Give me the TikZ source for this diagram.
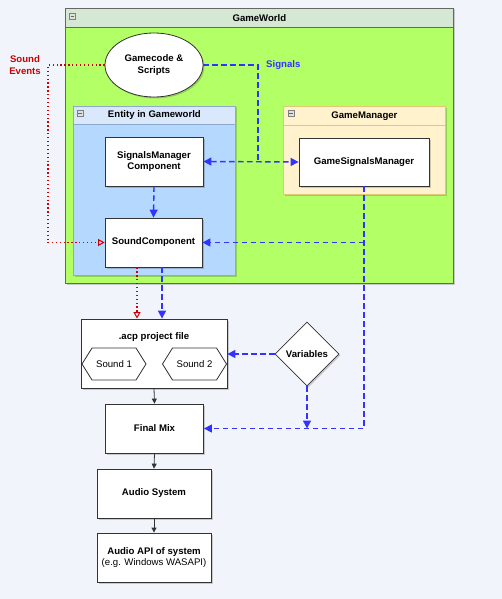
\documentclass[tikz,border=0pt]{standalone}
\usepackage{fontspec}
\setmainfont{Liberation Sans}
\usetikzlibrary{arrows.meta,shapes.geometric,shapes.symbols,shadows}

\definecolor{bgcol}{HTML}{F1F5FB}
\definecolor{worldhead}{HTML}{D5E8D4}
\definecolor{worldbody}{HTML}{B3FF66}
\definecolor{entityhead}{HTML}{DAE8FC}
\definecolor{entitybody}{HTML}{B5D8FF}
\definecolor{entityline}{HTML}{8EA9CF}
\definecolor{mgrhead}{HTML}{FFF2CC}
\definecolor{mgrline}{HTML}{E0C878}
\definecolor{boxline}{HTML}{333333}
\definecolor{sigblue}{HTML}{3333FF}
\definecolor{evred}{HTML}{CC0000}

\begin{document}
\begin{tikzpicture}[x=1pt,y=1pt,yscale=-1,
  font=\fontsize{9.6}{11.5}\selectfont,
  softshadow/.style={drop shadow={shadow xshift=1.5pt,shadow yshift=-1.5pt,opacity=0.18,fill=black}},
  box/.style={draw=boxline,fill=white,line width=0.8pt,inner sep=0pt,align=center,softshadow,font=\fontsize{9.6}{11.5}\selectfont\bfseries},
  frame/.style={draw=#1,line width=0.8pt,inner sep=0pt,softshadow},
  header/.style={draw=#1,line width=0.8pt,inner sep=0pt,anchor=north west,font=\fontsize{9.6}{11.5}\selectfont\bfseries},
  icon/.style={draw=gray,fill=black!12,line width=0.5pt,inner sep=0pt,minimum size=6pt,
    path picture={\draw[black!60,line width=0.7pt] ([xshift=1.3pt]path picture bounding box.west) -- ([xshift=-1.3pt]path picture bounding box.east);}},
  soundhex/.style={signal,signal to=west and east,signal pointer angle=116,draw=boxline,fill=white,line width=0.8pt,inner sep=0pt,minimum width=64,minimum height=32},
  sigline/.style={draw=sigblue,line width=1.4pt,dash pattern=on 5.5pt off 3.5pt,-{Triangle[length=8pt,width=8pt]}},
  evline/.style={draw=evred,line width=1.4pt,dash pattern=on 1.3pt off 2.6pt,-{Triangle[open,length=6.5pt,width=7pt,line width=1pt]}},
  flow/.style={draw=boxline,line width=0.8pt,-{Triangle[length=5pt,width=5pt]}}]

%Background
	\path[fill=bgcol] (0,0) rectangle (502,599);
	\useasboundingbox (0,0) rectangle (502,599);

%Shape: Container GameWorld
	\node[frame=black!60,fill=worldbody,minimum width=388,minimum height=275] (world) at (259,145.5) {};
	\node[header=black!60,fill=worldhead,minimum width=388,minimum height=19] (worldtitle) at (65,8) {GameWorld};
	\node[icon] (worldicon) at (72.5,16) {};

%Shape: Container Entity in Gameworld
	\node[frame=entityline,fill=entitybody,minimum width=162,minimum height=169] (entity) at (154,190.5) {};
	\node[header=entityline,fill=entityhead,minimum width=162,minimum height=18] (entitytitle) at (73,106) {Entity in Gameworld};
	\node[icon] (entityicon) at (80,113) {};

%Shape: Container GameManager
	\node[frame=mgrline,fill=mgrhead,minimum width=162,minimum height=88] (manager) at (364,150.5) {};
	\node[header=mgrline,fill=mgrhead,minimum width=162,minimum height=19] (managertitle) at (283,106) {GameManager};
	\node[icon] (managericon) at (291,113) {};

%Shapes inside the containers
	\node[box,ellipse,minimum width=98,minimum height=64] (gamecode) at (154,65) {Gamecode \&\\Scripts};
	\node[box,minimum width=98,minimum height=49] (sigmgr) at (154,161.5) {SignalsManager\\Component};
	\node[box,minimum width=97,minimum height=49] (soundcomp) at (153.5,242.5) {SoundComponent};
	\node[box,minimum width=130,minimum height=48] (gamesig) at (364,162) {GameSignalsManager};

%Shapes below
	\node[box,minimum width=146,minimum height=69] (acp) at (154,353.5) {};
	\node[font=\fontsize{9.6}{11.5}\selectfont\bfseries] (acptitle) at (154,337) {.acp project file};
	\node[soundhex] (sound1) at (114,364) {Sound 1};
	\node[soundhex] (sound2) at (194.5,364) {Sound 2};
	\node[box,diamond,aspect=1,minimum width=64,minimum height=64] (variables) at (307,354) {Variables};
	\node[box,minimum width=98,minimum height=49] (finalmix) at (154.5,428.5) {Final Mix};
	\node[box,minimum width=114,minimum height=49] (audiosys) at (154,493.5) {Audio System};
	\node[box,minimum width=114,minimum height=49] (audioapi) at (154,557.5) {Audio API of system\\{\mdseries(e.g. Windows WASAPI)}};

% Text Node
	\node[text=sigblue,font=\fontsize{9.6}{11.5}\selectfont\bfseries,anchor=west,inner sep=0pt] (signals) at (266,65) {Signals};
% Text Node
	\node[text=evred,font=\fontsize{9.6}{11.5}\selectfont\bfseries,align=center,inner sep=0pt] (events) at (25,65) {Sound\\Events};

%Connectors
	\coordinate (sigjoin) at (258,162);
	\coordinate (evturn) at (48,65);
	\draw[sigline,-] (gamecode.east) -| (sigjoin);
	\draw[sigline,{Triangle[length=8pt,width=8pt]}-{Triangle[length=8pt,width=8pt]}] (sigmgr.east) -- (gamesig.west);
	\draw[sigline] (sigmgr.south) -- (soundcomp.north);
	\draw[sigline] (gamesig.south) |- (finalmix.east);
	\draw[sigline] (gamesig.south |- soundcomp.east) -- (soundcomp.east);
	\draw[evline] (gamecode.west) -- (evturn) |- (soundcomp.west);
	\draw[evline] ([xshift=-16.5pt]soundcomp.south) -- ([xshift=-17pt]acp.north);
	\draw[sigline] ([xshift=8.5pt]soundcomp.south) -- ([xshift=8pt]acp.north);
	\draw[sigline] (variables.west) -- (variables.west -| acp.east);
	\draw[sigline] (variables.south) -- (variables.south |- finalmix.east);
	\draw[flow] (acp.south) -- (finalmix.north);
	\draw[flow] (finalmix.south) -- (audiosys.north);
	\draw[flow] (audiosys.south) -- (audioapi.north);

\end{tikzpicture}
\end{document}
